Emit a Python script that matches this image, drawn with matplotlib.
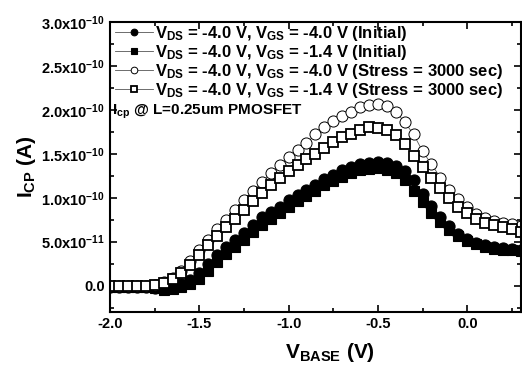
import numpy as np
import matplotlib
matplotlib.use("Agg")
import matplotlib.pyplot as plt
from matplotlib.ticker import FuncFormatter, FixedLocator

plt.rcParams['font.family'] = ['Liberation Sans', 'DejaVu Sans']
plt.rcParams['font.weight'] = 'bold'
plt.rcParams['mathtext.fontset'] = 'custom'
for k in ['rm', 'it', 'bf', 'sf']:
    plt.rcParams['mathtext.' + k] = 'Liberation Sans:bold'

v_base = [-2.00, -1.95, -1.90, -1.85, -1.80, -1.75, -1.70, -1.65, -1.60, -1.55,
          -1.50, -1.45, -1.40, -1.35, -1.30, -1.25, -1.20, -1.15, -1.10, -1.05,
          -1.00, -0.95, -0.90, -0.85, -0.80, -0.75, -0.70, -0.65, -0.60, -0.55,
          -0.50, -0.45, -0.40, -0.35, -0.30, -0.25, -0.20, -0.15, -0.10, -0.05,
          0.00, 0.05, 0.10, 0.15, 0.20, 0.25, 0.30]

# pA values (x1e-12 A)
icp_init_vgs40 = [-2, -2, -2, -2, -2, -2.5, -3, -1, 2, 6,
                  14, 25, 35, 44, 52, 60, 69, 78, 84, 90,
                  97, 103, 109, 114, 121, 126, 131, 135, 138, 140,
                  141, 139, 136, 130, 120, 104, 91, 78, 68, 59,
                  53, 49, 46, 44, 43, 42, 41]
icp_init_vgs14 = [-2, -2, -2, -2, -2, -3, -5, -4, -2, 2,
                  8, 17, 27, 36, 44, 52, 61, 69, 76, 83,
                  90, 96, 102, 108, 114, 119, 124, 128, 131, 133,
                  134, 132, 128, 120, 108, 95, 83, 72, 63, 56,
                  51, 47, 44, 42, 41, 40, 39]
icp_str_vgs40 = [-1, -1, -1, -0.5, 0, 1, 4, 9, 17, 28,
                 40, 52, 64, 75, 86, 97, 108, 118, 128, 137,
                 146, 154, 162, 172, 180, 187, 193, 198, 203, 206,
                 207, 204, 198, 186, 172, 153, 138, 123, 109, 98,
                 89, 82, 77, 74, 71, 70, 68]
icp_str_vgs14 = [-1, -1, -1, -0.5, 0, 1, 3, 7, 14, 24,
                 35, 46, 57, 67, 76, 86, 96, 105, 114, 122,
                 130, 137, 144, 150, 157, 163, 169, 173, 177, 180,
                 179, 177, 171, 161, 148, 135, 123, 111, 100, 90,
                 83, 76, 71, 69, 67, 64, 61]

labels = [r'V$_{\mathregular{DS}}$ = -4.0 V, V$_{\mathregular{GS}}$ = -4.0 V (Initial)',
          r'V$_{\mathregular{DS}}$ = -4.0 V, V$_{\mathregular{GS}}$ = -1.4 V (Initial)',
          r'V$_{\mathregular{DS}}$ = -4.0 V, V$_{\mathregular{GS}}$ = -4.0 V (Stress = 3000 sec)',
          r'V$_{\mathregular{DS}}$ = -4.0 V, V$_{\mathregular{GS}}$ = -1.4 V (Stress = 3000 sec)']

x_ticks = [-2.0, -1.5, -1.0, -0.5, 0.0]
x_minor = [-1.75, -1.25, -0.75, -0.25, 0.25]
y_ticks = [0.0, 5e-11, 1e-10, 1.5e-10, 2e-10, 2.5e-10, 3e-10]
y_minor = [-2.5e-11, 2.5e-11, 7.5e-11, 1.25e-10, 1.75e-10, 2.25e-10, 2.75e-10]

x = np.array(v_base)
fig = plt.figure(figsize=(5.22, 3.67), dpi=100)
ax = fig.add_axes([0.2107, 0.150, 0.787, 0.790])

series = [
    (icp_init_vgs40, dict(marker='o', mfc='black', mec='black', ms=8, mew=0.8)),
    (icp_init_vgs14, dict(marker='s', mfc='black', mec='black', ms=7, mew=0.8)),
    (icp_str_vgs40, dict(marker='o', mfc='white', mec='black', ms=8, mew=0.7)),
    (icp_str_vgs14, dict(marker='s', mfc='white', mec='black', ms=7, mew=1.3)),
]
handles = []
for (vals, st), lab in zip(series, labels):
    h, = ax.plot(x, np.array(vals) * 1e-12, color='#555555', lw=0.6, label=lab, **st)
    handles.append(h)

ax.set_xlim(-2.0, 0.3)
ax.set_ylim(-3e-11, 3e-10)
ax.xaxis.set_major_locator(FixedLocator(x_ticks))
ax.xaxis.set_minor_locator(FixedLocator(x_minor))
ax.yaxis.set_major_locator(FixedLocator(y_ticks))
ax.yaxis.set_minor_locator(FixedLocator(y_minor))

def yfmt(v, pos):
    if abs(v) < 1e-15:
        return '0.0'
    exp = int(np.floor(np.log10(abs(v))))
    m = v / 10 ** exp
    return r'$%.1f\mathregular{x}10^{%d}$' % (m, exp)

ax.yaxis.set_major_formatter(FuncFormatter(yfmt))
ax.xaxis.set_major_formatter(FuncFormatter(lambda v, p: '%.1f' % v))
ax.tick_params(which='both', direction='in', top=True, right=True, width=1.2)
ax.tick_params(which='major', length=5, labelsize=10.5)
ax.tick_params(which='minor', length=3)
for lab in ax.get_xticklabels() + ax.get_yticklabels():
    lab.set_fontweight('bold')
for s in ax.spines.values():
    s.set_linewidth(1.5)

ax.set_xlabel(r'V$_{\mathregular{BASE}}$ (V)', fontsize=15, fontweight='bold')
ax.xaxis.set_label_coords(0.535, -0.10)
ax.set_ylabel(r'I$_{\mathregular{CP}}$ (A)', fontsize=15, fontweight='bold', labelpad=2)

leg = ax.legend(handles=handles, loc='upper left', bbox_to_anchor=(-0.012, 1.027),
                frameon=False, fontsize=12, markerscale=0.6, handlelength=2.3,
                handletextpad=0.1, labelspacing=0.0, borderaxespad=0.2)
for t in leg.get_texts():
    t.set_fontweight('bold')

ax.text(0.005, 0.69, r'I$_{\mathregular{cp}}$ @ L=0.25um PMOSFET', transform=ax.transAxes,
        fontsize=11, fontweight='bold', ha='left', va='center')

fig.savefig('out.png', dpi=100)
